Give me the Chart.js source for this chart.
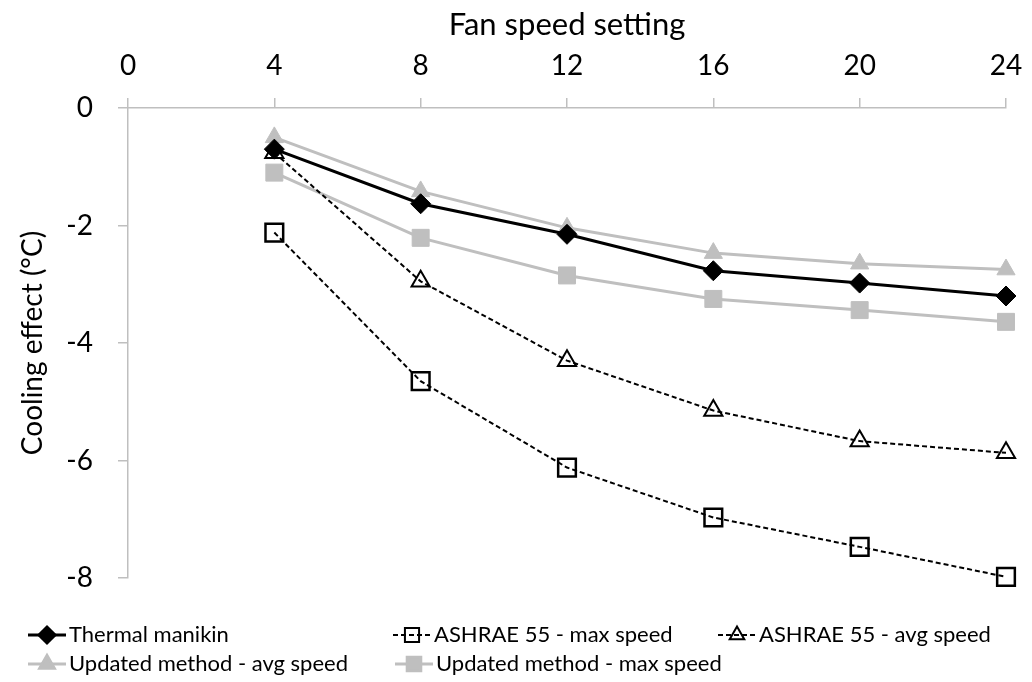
<!DOCTYPE html>
<html>
<head>
<meta charset="utf-8">
<script src="https://cdn.jsdelivr.net/npm/chart.js@4/dist/chart.umd.min.js"></script>
<style>
  body { margin: 0; background: #fff; }
  #box { width: 1032px; height: 682px; }
</style>
</head>
<body>
<div id="box"><canvas id="graf" width="1032" height="682"></canvas></div>
<script>
// podaci ocitani sa slike
const fanSpeed = [4, 8, 12, 16, 20, 24];
const manikin = [-0.7, -1.63, -2.15, -2.77, -2.98, -3.2];
const ashraeMax = [-2.12, -4.65, -6.12, -6.97, -7.47, -7.98];
const ashraeAvg = [-0.76, -2.95, -4.3, -5.15, -5.67, -5.87];
const updatedAvg = [-0.5, -1.42, -2.04, -2.47, -2.65, -2.75];
const updatedMax = [-1.1, -2.21, -2.85, -3.25, -3.44, -3.64];
const xTicks = [0, 4, 8, 12, 16, 20, 24];
const yTicks = [0, -2, -4, -6, -8];

const FONT = 'Lato';
const GREY = '#bfbfbf';

function tocke(vals) {
    return fanSpeed.map((x, i) => ({ x: x, y: vals[i] }));
}

// legenda u stupcima kao u Excelu
const legendPos = [
    { x: 28, y: 635 }, { x: 393, y: 635 }, { x: 718, y: 635 },
    { x: 28, y: 664 }, { x: 395, y: 664 }
];

const legendaPlugin = {
    id: 'legenda',
    afterDraw(chart) {
        const ctx = chart.ctx;
        chart.data.datasets.forEach((ds, i) => {
            const p = legendPos[i];
            const len = 38;
            ctx.save();
            ctx.strokeStyle = ds.borderColor;
            ctx.lineWidth = ds.borderWidth;
            ctx.setLineDash(ds.borderDash || []);
            ctx.beginPath();
            ctx.moveTo(p.x, p.y);
            ctx.lineTo(p.x + len, p.y);
            ctx.stroke();
            ctx.setLineDash([]);
            ctx.fillStyle = ds.pointBackgroundColor;
            ctx.strokeStyle = ds.pointBorderColor;
            Chart.helpers.drawPoint(ctx, {
                pointStyle: ds.pointStyle,
                radius: ds.pointRadius * 0.8,
                borderWidth: ds.pointBorderWidth,
                rotation: 0
            }, p.x + len / 2, p.y);
            ctx.fillStyle = '#000';
            ctx.font = '22px ' + FONT;
            ctx.textBaseline = 'middle';
            ctx.textAlign = 'left';
            ctx.fillText(ds.label, p.x + len + 3, p.y);
            ctx.restore();
        });
    }
};

const ctx = document.getElementById('graf').getContext('2d');
new Chart(ctx, {
    type: 'line',
    data: {
        datasets: [
            {
                label: 'Thermal manikin',
                data: tocke(manikin),
                borderColor: '#000',
                borderWidth: 3,
                pointStyle: 'rectRot',
                pointRadius: 10,
                pointBackgroundColor: '#000',
                pointBorderColor: '#000',
                pointBorderWidth: 1,
                clip: false,
                order: 0
            },
            {
                label: 'ASHRAE 55 - max speed',
                data: tocke(ashraeMax),
                borderColor: '#000',
                borderWidth: 2,
                borderDash: [5, 3],
                pointStyle: 'rect',
                pointRadius: 12.5,
                pointBackgroundColor: 'rgba(0,0,0,0)',
                pointBorderColor: '#000',
                pointBorderWidth: 2.5,
                clip: false,
                order: 2
            },
            {
                label: 'ASHRAE 55 - avg speed',
                data: tocke(ashraeAvg),
                borderColor: '#000',
                borderWidth: 2,
                borderDash: [5, 3],
                pointStyle: 'triangle',
                pointRadius: 10.5,
                pointBackgroundColor: 'rgba(0,0,0,0)',
                pointBorderColor: '#000',
                pointBorderWidth: 2,
                clip: false,
                order: 1
            },
            {
                label: 'Updated method - avg speed',
                data: tocke(updatedAvg),
                borderColor: GREY,
                borderWidth: 3,
                pointStyle: 'triangle',
                pointRadius: 10.5,
                pointBackgroundColor: GREY,
                pointBorderColor: GREY,
                pointBorderWidth: 1,
                clip: false,
                order: 3
            },
            {
                label: 'Updated method - max speed',
                data: tocke(updatedMax),
                borderColor: GREY,
                borderWidth: 3,
                pointStyle: 'rect',
                pointRadius: 12,
                pointBackgroundColor: GREY,
                pointBorderColor: GREY,
                pointBorderWidth: 1,
                clip: false,
                order: 4
            }
        ]
    },
    options: {
        responsive: false,
        animation: false,
        events: [],
        layout: { padding: { left: 0, top: 0, right: 26, bottom: 104 } },
        plugins: {
            legend: { display: false },
            tooltip: { enabled: false }
        },
        scales: {
            x: {
                type: 'linear',
                position: 'top',
                min: 0,
                max: 24,
                afterBuildTicks: s => { s.ticks = xTicks.map(v => ({ value: v })); },
                afterFit: s => { s.height = 108; s.paddingLeft = 0; s.paddingRight = 0; },
                ticks: { color: '#000', font: { family: FONT, size: 28 }, padding: 15 },
                grid: { display: true, drawOnChartArea: false, drawTicks: true, tickLength: 10, color: GREY, lineWidth: 1.5 },
                border: { display: true, color: GREY, width: 1.5 },
                title: {
                    display: true,
                    text: 'Fan speed setting',
                    color: '#000',
                    font: { family: FONT, size: 31 },
                    padding: { top: 6, bottom: 0 }
                }
            },
            y: {
                min: -8,
                max: 0,
                afterBuildTicks: s => { s.ticks = yTicks.map(v => ({ value: v })); },
                afterFit: s => { s.width = 128; },
                ticks: { color: '#000', font: { family: FONT, size: 28 }, padding: 25 },
                grid: { display: true, drawOnChartArea: false, drawTicks: true, tickLength: 10, color: GREY, lineWidth: 1.5 },
                border: { display: true, color: GREY, width: 1.5 },
                title: {
                    display: true,
                    text: 'Cooling effect (°C)',
                    color: '#000',
                    font: { family: FONT, size: 28 },
                    padding: { top: 16, bottom: 0 }
                }
            }
        }
    },
    plugins: [legendaPlugin]
});
</script>
</body>
</html>
